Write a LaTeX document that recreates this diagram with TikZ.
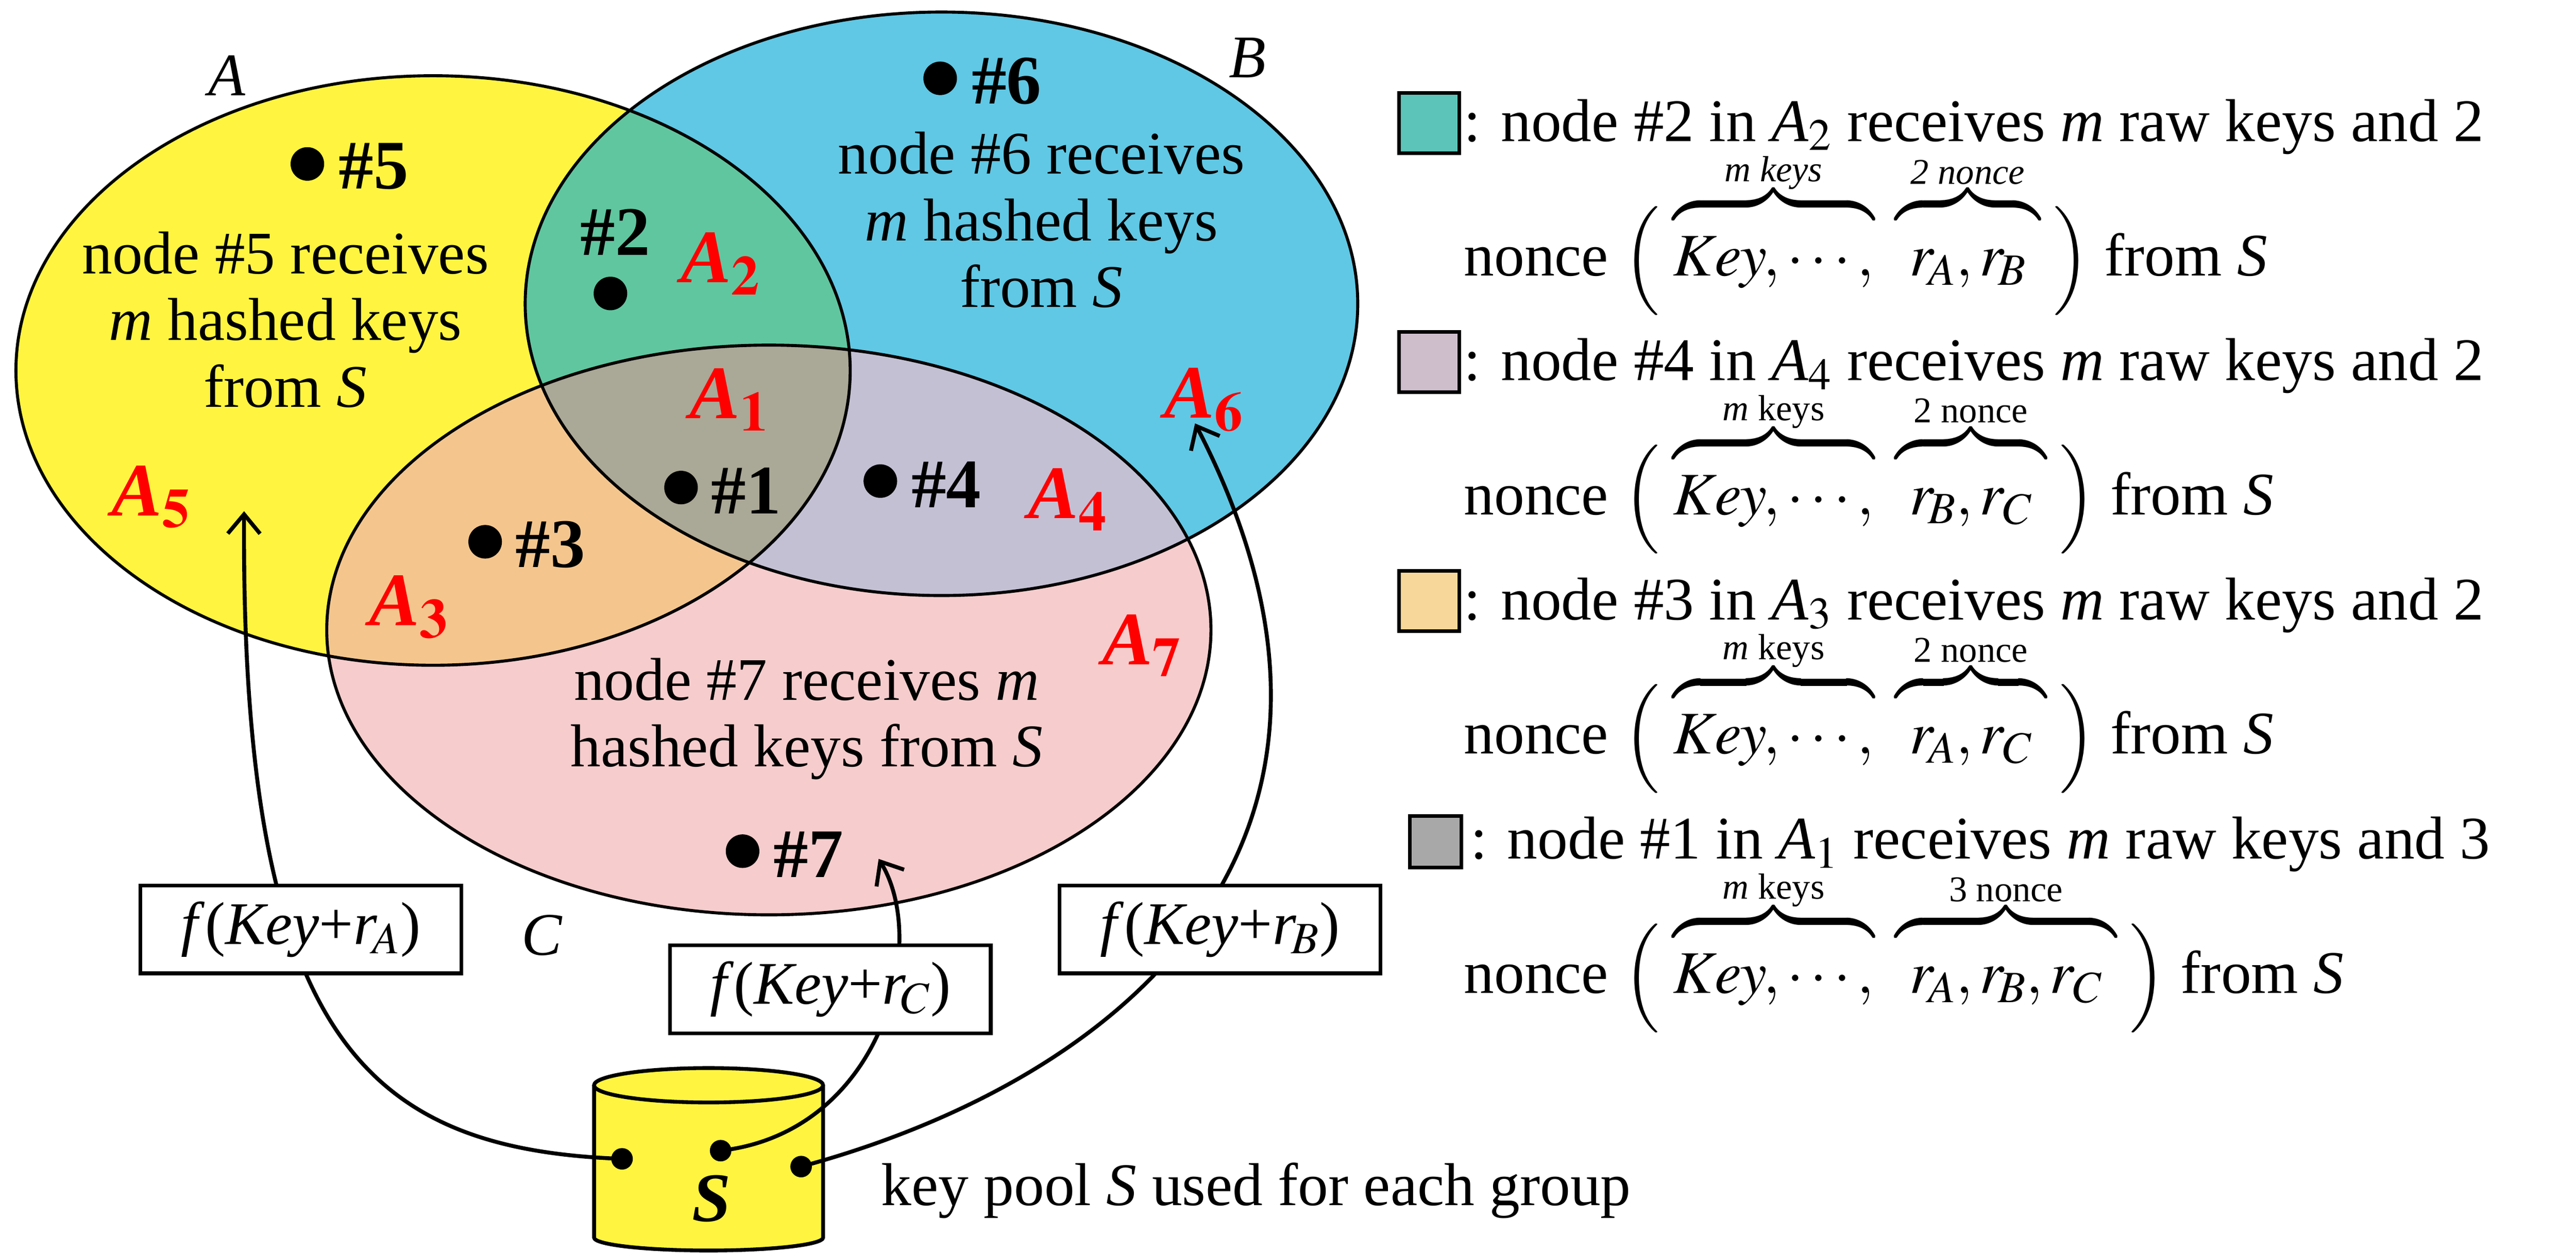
\documentclass[tikz,border=0pt]{standalone}
\usepackage{mathptmx}
\usepackage{fontspec}
\setmainfont{Liberation Serif}
\usetikzlibrary{arrows.meta,shapes.geometric}
\newcommand{\smtxt}[1]{\mbox{\fontsize{24}{26}\selectfont #1}}
\newcommand{\bstrut}{\rule{0pt}{1.05em}}
\begin{document}
\begin{tikzpicture}[
  every node/.style={font=\fontsize{40}{44}\selectfont},
  lbl/.style={font=\fontsize{46}{50}\selectfont\bfseries},
  reg/.style={text=red,font=\fontsize{50}{54}\selectfont\bfseries\itshape},
  dot/.style={circle,fill=black,inner sep=0pt,minimum size=0.78cm},
  fbox/.style={draw,fill=white,line width=2.5pt,minimum width=7.45cm,minimum height=2.04cm,inner sep=0pt},
  conn/.style={line width=2.6pt,-{Straight Barb[length=0.45cm,width=0.75cm,line width=2.6pt]}},
  sq/.style={draw,line width=2.5pt,minimum size=1.4cm,inner sep=0pt},
  leg/.style={anchor=base west,inner sep=0pt}]
\useasboundingbox (0,0) rectangle (59.84,29.11);
\def\ellA{(10.06,20.50) ellipse [x radius=9.69,y radius=6.85]}
\def\ellB{(21.87,22.05) ellipse [x radius=9.67,y radius=6.78]}
\def\ellC{(17.86,14.47) ellipse [x radius=10.27,y radius=6.62]}
\fill[fill=yellow!75] \ellA;
\fill[fill={rgb,255:red,96;green,200;blue,228}] \ellB;
\fill[fill={rgb,255:red,246;green,204;blue,204}] \ellC;
\begin{scope}\clip \ellA; \fill[fill={rgb,255:red,96;green,198;blue,160}] \ellB; \end{scope}
\begin{scope}\clip \ellA; \fill[fill={rgb,255:red,244;green,198;blue,142}] \ellC; \end{scope}
\begin{scope}\clip \ellB; \fill[fill={rgb,255:red,196;green,192;blue,212}] \ellC; \end{scope}
\begin{scope}\clip \ellA; \clip \ellB; \fill[fill={rgb,255:red,170;green,168;blue,150}] \ellC; \end{scope}
\draw[line width=2pt] \ellA;
\draw[line width=2pt] \ellB;
\draw[line width=2pt] \ellC;

\node (lA) at (5.27,27.35) {\itshape A};
\node (lB) at (28.98,27.77) {\itshape B};
\node (lC) at (12.59,7.38) {\itshape C};

\node[dot] (d5) at (7.14,25.30) {};
\node[lbl,anchor=west] (n5) at (7.75,25.25) {\#5};
\node[align=center] (t5) at (6.63,21.68) {node \#5 receives\\\textit{m} hashed keys\\from \textit{S}};
\node[dot] (d6) at (21.84,27.29) {};
\node[lbl,anchor=west] (n6) at (22.45,27.22) {\#6};
\node[align=center] (t6) at (24.19,24.00) {node \#6 receives\\\textit{m} hashed keys\\from \textit{S}};
\node[lbl] (n2) at (14.29,23.72) {\#2};
\node[dot] (d2) at (14.18,22.29) {};
\node[dot] (d1) at (15.82,17.78) {};
\node[lbl,anchor=west] (n1) at (16.40,17.70) {\#1};
\node[dot] (d4) at (20.45,17.93) {};
\node[lbl,anchor=west] (n4) at (21.05,17.85) {\#4};
\node[dot] (d3) at (11.27,16.52) {};
\node[lbl,anchor=west] (n3) at (11.85,16.45) {\#3};
\node[align=center] (t7) at (18.74,12.40) {node \#7 receives \textit{m}\\hashed keys from \textit{S}};
\node[dot] (d7) at (17.25,9.33) {};
\node[lbl,anchor=west] (n7) at (17.85,9.25) {\#7};

\node[reg] (a1) at (16.94,19.82) {A$_{\mathbf 1}$};
\node[reg] (a2) at (16.74,22.98) {A$_{\mathbf 2}$};
\node[reg] (a3) at (9.49,15.00) {A$_{\mathbf 3}$};
\node[reg] (a4) at (24.80,17.50) {A$_{\mathbf 4}$};
\node[reg] (a5) at (3.51,17.56) {A$_{\mathbf 5}$};
\node[reg] (a6) at (27.96,19.82) {A$_{\mathbf 6}$};
\node[reg] (a7) at (26.53,14.11) {A$_{\mathbf 7}$};

% cylinder
\fill[yellow!75] (13.80,3.89) -- (13.80,0.35) arc[start angle=180,end angle=360,x radius=2.66,y radius=0.3] -- (19.12,3.89) arc[start angle=0,end angle=180,x radius=2.66,y radius=0.4];
\draw[line width=2.5pt] (13.80,3.89) -- (13.80,0.35) arc[start angle=180,end angle=360,x radius=2.66,y radius=0.3] -- (19.12,3.89);
\draw[line width=2.5pt] (16.46,3.89) ellipse[x radius=2.66,y radius=0.4];
\node[font=\fontsize{46}{50}\selectfont\bfseries\itshape] (S) at (16.53,1.25) {S};
\node[dot,minimum size=0.5cm] (s1) at (14.45,2.18) {};
\node[dot,minimum size=0.5cm] (s2) at (16.74,2.37) {};
\node[dot,minimum size=0.5cm] (s3) at (18.61,2.00) {};
\node[anchor=west] (kp) at (20.35,1.44) {key pool \textit{S} used for each group};
\coordinate (ta) at (5.67,17.23);
\coordinate (tc) at (20.41,9.15);
\coordinate (tb) at (27.76,19.27);

\draw[conn] (s1.center) .. controls (8.5,2.4) and (5.6,5.0) .. (ta);
\draw[conn] (s2.center) .. controls (20.5,2.8) and (21.6,7.2) .. (tc);
\draw[conn] (s3.center) .. controls (26.0,4.0) and (32.8,9.5) .. (tb);

\node[fbox] (fa) at (6.99,7.51) {\textit{f}(\textit{Key}+\textit{r}$_{\!A}$)};
\node[fbox] (fc) at (19.29,6.12) {\textit{f}(\textit{Key}+\textit{r}$_{\!C}$)};
\node[fbox] (fb) at (28.34,7.51) {\textit{f}(\textit{Key}+\textit{r}$_{\!B}$)};

% legend
\node[sq,fill={rgb,255:red,92;green,196;blue,184}] (q1) at (33.2,26.25) {};
\node[leg] (l1a) at (34.0,25.83) {: node \#2 in \textit{A}$_2$ receives \textit{m} raw keys and 2};
\node[leg] (l1b) at (34.0,22.70) {nonce $\Bigl(\;\overbrace{\bstrut Key,\cdots,}^{\smtxt{\itshape m keys}}\ \overbrace{\bstrut\;r_{\!A},r_{\!B}\;}^{\smtxt{\itshape 2 nonce}}\;\Bigr)$ from \textit{S}};
\node[sq,fill={rgb,255:red,206;green,190;blue,204}] (q2) at (33.2,20.70) {};
\node[leg] (l2a) at (34.0,20.27) {: node \#4 in \textit{A}$_4$ receives \textit{m} raw keys and 2};
\node[leg] (l2b) at (34.0,17.15) {nonce $\Bigl(\;\overbrace{\bstrut Key,\cdots,}^{\smtxt{\textit{m} keys}}\ \overbrace{\bstrut\;r_{\!B},r_{C}\;}^{\smtxt{2 nonce}}\;\Bigr)$ from \textit{S}};
\node[sq,fill={rgb,255:red,248;green,216;blue,154}] (q3) at (33.2,15.14) {};
\node[leg] (l3a) at (34.0,14.71) {: node \#3 in \textit{A}$_3$ receives \textit{m} raw keys and 2};
\node[leg] (l3b) at (34.0,11.59) {nonce $\Bigl(\;\overbrace{\bstrut Key,\cdots,}^{\smtxt{\textit{m} keys}}\ \overbrace{\bstrut\;r_{\!A},r_{C}\;}^{\smtxt{2 nonce}}\;\Bigr)$ from \textit{S}};
\node[sq,fill={rgb,255:red,168;green,168;blue,168},minimum size=1.2cm] (q4) at (33.35,9.55) {};
\node[leg] (l4a) at (34.15,9.15) {: node \#1 in \textit{A}$_1$ receives \textit{m} raw keys and 3};
\node[leg] (l4b) at (34.0,6.03) {nonce $\Bigl(\;\overbrace{\bstrut Key,\cdots,}^{\smtxt{\textit{m} keys}}\ \overbrace{\bstrut\;r_{\!A},r_{\!B},r_{C}\;}^{\smtxt{3 nonce}}\;\Bigr)$ from \textit{S}};
\end{tikzpicture}
\end{document}
